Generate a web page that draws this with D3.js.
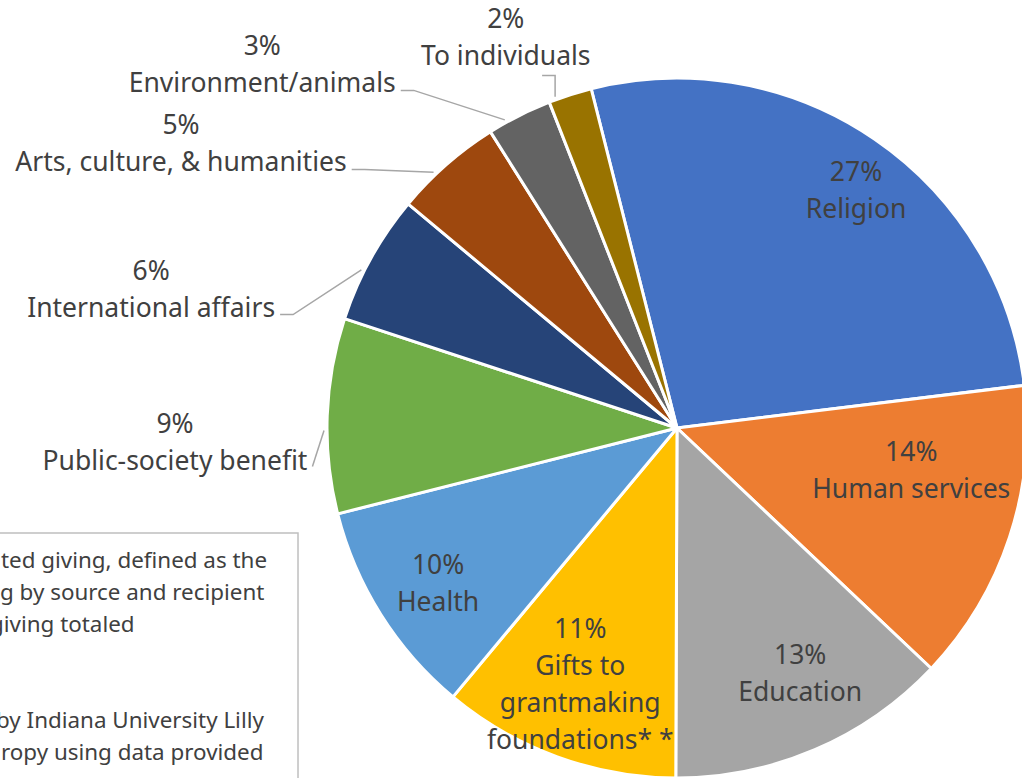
<!DOCTYPE html>
<html>
<head>
<meta charset="utf-8">
<script src="https://cdn.jsdelivr.net/npm/d3@7"></script>
<style>
  html, body { margin: 0; padding: 0; background: #fff; }
  svg { display: block; }
  text { font-family: "Noto Sans", "Open Sans", sans-serif; fill: #404040; }
</style>
</head>
<body>
<svg id="chart" width="1022" height="778"></svg>
<script>
// Share of giving by recipient type (percent)
const categories = [
  "Religion", "Human services", "Education", "Gifts to grantmaking foundations* *",
  "Health", "Public-society benefit", "International affairs",
  "Arts, culture, & humanities", "Environment/animals", "To individuals"
];
const shares = [27, 14, 13, 11, 10, 9, 6, 5, 3, 2];
const colors = [
  "#4472C4", "#ED7D31", "#A5A5A5", "#FFC000", "#5B9BD5",
  "#70AD47", "#264478", "#9E480E", "#636363", "#997300"
];
// Category names broken into the lines shown under each percentage
const nameLines = [
  ["Religion"], ["Human services"], ["Education"], ["Gifts to", "grantmaking", "foundations* *"],
  ["Health"], ["Public-society benefit"], ["International affairs"],
  ["Arts, culture, & humanities"], ["Environment/animals"], ["To individuals"]
];
// Notes box: the part of each line that lies inside the drawing area
const noteLines = [
  "ted giving, defined as the",
  "g by source and recipient",
  "giving totaled",
  "",
  "",
  "by Indiana University Lilly",
  "ropy using data provided"
];

// ---- layout ----
const cx = 677, cy = 428, R = 350;
const startDeg = -14.2;
const lineH = 37;
const fontSize = 26.5;
const noteFont = 22.4;
// horizontal start of each note line (words cut by the left edge start before 0)
const noteX = [1, 0, -10, 0, 0, -4, 1];
// Label placement: angle (deg, clockwise from 12 o'clock) and distance from centre as a fraction of R,
// plus leader style for labels outside the pie.
const labelLayout = [
  { a: 37.0, r: 0.85 },
  { a: 100.2, r: 0.68 },
  { a: 153.4, r: 0.786 },
  { a: 200.7, r: 0.782 },
  { a: 237.0, r: 0.814 },
  { a: 268.3, r: 1.435, leader: "direct" },
  { a: 284.8, r: 1.554, leader: "side" },
  { a: 299.8, r: 1.633, leader: "side" },
  { a: 311.2, r: 1.575, leader: "side" },
  { a: 336.3, r: 1.217, leader: "top" }
];

const svg = d3.select("#chart");
const rad = d => d * Math.PI / 180;
const polar = (aDeg, r) => [cx + r * Math.sin(rad(aDeg)), cy - r * Math.cos(rad(aDeg))];

const pie = d3.pie().sort(null).value(d => d)
  .startAngle(rad(startDeg)).endAngle(rad(startDeg) + 2 * Math.PI);
const arcs = pie(shares);
const arc = d3.arc().innerRadius(0).outerRadius(R);

const g = svg.append("g").attr("transform", `translate(${cx},${cy})`);
g.selectAll("path.slice").data(arcs).join("path")
  .attr("class", "slice")
  .attr("d", arc)
  .attr("fill", (d, i) => colors[i])
  .attr("stroke", "#fff")
  .attr("stroke-width", 3)
  .attr("stroke-linejoin", "round");

// Notes box
const box = svg.append("g");
box.append("rect")
  .attr("x", -20).attr("y", 533).attr("width", 318).attr("height", 280)
  .attr("fill", "#fff").attr("stroke", "#BFBFBF").attr("stroke-width", 1.5);
box.selectAll("text").data(noteLines).join("text")
  .attr("x", (d, i) => noteX[i]).attr("y", (d, i) => 568 + i * 32)
  .attr("font-size", noteFont)
  .text(d => d);

// Data labels
const leaderColor = "#A6A6A6";
arcs.forEach((d, i) => {
  const lay = labelLayout[i];
  const [lx, ly] = polar(lay.a, lay.r * R);
  const lines = [shares[i] + "%"].concat(nameLines[i]);
  const top = ly - (lines.length - 1) * lineH / 2;
  const t = svg.append("text")
    .attr("text-anchor", "middle")
    .attr("font-size", fontSize);
  lines.forEach((s, k) => {
    t.append("tspan").attr("x", lx).attr("y", top + k * lineH + 9).text(s);
  });
  if (!lay.leader) return;
  const nameSpan = t.selectAll("tspan").nodes()[1];
  const bb = nameSpan.getBBox();
  // leader meets the slice just outside its rim, a little before the mid-angle
  const midDeg = (d.startAngle + d.endAngle) / 2 * 180 / Math.PI;
  const [ex, ey] = polar(midDeg - 2.4, R + 3);
  let pts;
  if (lay.leader === "side") {
    const sx = bb.x + bb.width + 5, sy = top + lineH + 7;
    const elbowX = Math.min(sx + 13, ex);
    pts = [[sx, sy], [elbowX, sy], [ex, ey]];
  } else if (lay.leader === "direct") {
    const sx = bb.x + bb.width + 5, sy = top + lineH + 5;
    pts = [[sx, sy], [ex, ey]];
  } else {
    const sy = bb.y + bb.height + 2;
    pts = [[ex - 13, sy], [ex, sy], [ex, ey]];
  }
  svg.append("path")
    .attr("d", d3.line()(pts))
    .attr("fill", "none")
    .attr("stroke", leaderColor)
    .attr("stroke-width", 1.5);
});
</script>
</body>
</html>
